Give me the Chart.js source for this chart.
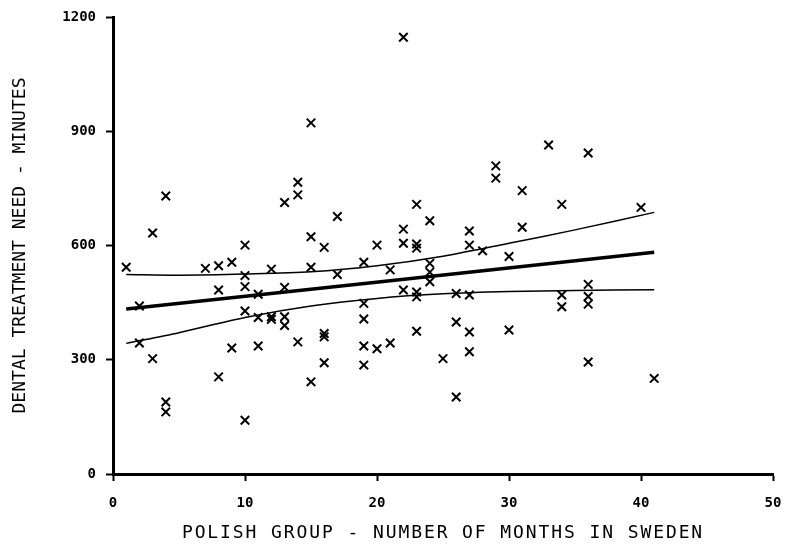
<!DOCTYPE html>
<html lang="en">
<head>
<meta charset="UTF-8">
<title>Dental treatment need - Polish group</title>
<script src="https://cdn.jsdelivr.net/npm/chart.js"></script>
<style>
  body { margin: 0; background: #fff; }
  canvas { display: block; }
</style>
</head>
<body>
<canvas id="chart" width="790" height="544"></canvas>
<script>
  // one entry per patient: months in Sweden and treatment need (minutes)
  const months = [
    1,
    2, 2,
    3, 3,
    4, 4, 4,
    7,
    8, 8, 8,
    9, 9,
    10, 10, 10, 10, 10,
    11, 11, 11,
    12, 12, 12,
    13, 13, 13, 13,
    14, 14, 14,
    15, 15, 15, 15,
    16, 16, 16, 16,
    17, 17,
    19, 19, 19, 19, 19,
    20, 20,
    21, 21,
    22, 22, 22, 22,
    23, 23, 23, 23, 23, 23,
    24, 24, 24, 24,
    25,
    26, 26, 26,
    27, 27, 27, 27, 27,
    28,
    29, 29,
    30, 30,
    31, 31,
    33,
    34, 34, 34,
    36, 36, 36, 36, 36,
    40,
    41
  ];
  const minutes = [
    543,
    441, 344,
    633, 303,
    730, 189, 163,
    540,
    547, 483, 255,
    556, 331,
    601, 521, 492, 428, 141,
    472, 411, 336,
    538, 413, 406,
    713, 490, 413, 390,
    766, 733, 347,
    922, 623, 543, 242,
    595, 369, 360, 292,
    676, 524,
    556, 448, 407, 336, 286,
    601, 329,
    536, 344,
    1147, 643, 606, 483,
    708, 604, 593, 478, 465, 375,
    665, 553, 530, 505,
    303,
    474, 399, 202,
    638, 601, 470, 373, 321,
    586,
    809, 777,
    571, 378,
    744, 648,
    864,
    708, 470, 439,
    843, 498, 466, 446, 294,
    700,
    251
  ];

  // regression line and its confidence band
  const fitMonths = [1, 41];
  const fitMinutes = [433, 582];
  const bandMonths = [1, 5, 10, 15, 20, 25, 30, 35, 41];
  const upperBand = [524, 522, 525, 531, 547, 572, 606, 641, 687];
  const lowerBand = [343, 371, 411, 441, 461, 473, 479, 482, 484];

  const xTicks = [0, 10, 20, 30, 40, 50];
  const yTicks = [0, 300, 600, 900, 1200];

  const pairs = (xs, ys) => xs.map((x, i) => ({ x: x, y: ys[i] }));

  const tickFont = { family: 'DejaVu Sans Mono', size: 14, weight: 'bold' };
  const titleFont = { family: 'DejaVu Sans Mono', size: 18 };

  // x axis is drawn after the datasets, so its title can get wider letter spacing
  const spacing = {
    id: 'spacing',
    beforeDraw(chart) { chart.ctx.letterSpacing = '0px'; },
    afterDatasetsDraw(chart) { chart.ctx.letterSpacing = '1.9px'; },
    afterDraw(chart) { chart.ctx.letterSpacing = '0px'; }
  };

  function lineSet(xs, ys, width) {
    return {
      data: pairs(xs, ys),
      showLine: true,
      fill: false,
      pointRadius: 0,
      borderColor: '#000',
      borderWidth: width,
      tension: 0.3
    };
  }

  new Chart(document.getElementById('chart'), {
    type: 'scatter',
    data: {
      datasets: [
        {
          data: pairs(months, minutes),
          pointStyle: 'crossRot',
          pointRadius: 6,
          pointBorderWidth: 2,
          borderColor: '#000',
          backgroundColor: '#000'
        },
        lineSet(bandMonths, upperBand, 1.5),
        lineSet(bandMonths, lowerBand, 1.5),
        lineSet(fitMonths, fitMinutes, 3.5)
      ]
    },
    options: {
      responsive: false,
      animation: false,
      layout: { padding: { top: 17, right: 17, left: 0, bottom: 0 } },
      plugins: { legend: { display: false }, tooltip: { enabled: false } },
      scales: {
        x: {
          type: 'linear',
          min: 0,
          max: 50,
          afterFit: s => { s.height = 70; s.paddingLeft = 0; s.paddingRight = 0; },
          afterBuildTicks: s => { s.ticks = xTicks.map(v => ({ value: v })); },
          ticks: { color: '#000', font: tickFont, padding: 14, maxRotation: 0, callback: v => String(v) },
          grid: { drawOnChartArea: false, tickLength: 7, tickWidth: 2, tickColor: '#000', z: 1 },
          border: { color: '#000', width: 3, z: 1 },
          title: {
            display: true,
            text: 'POLISH GROUP - NUMBER OF MONTHS IN SWEDEN',
            color: '#000',
            font: titleFont,
            padding: 0
          }
        },
        y: {
          type: 'linear',
          min: 0,
          max: 1200,
          afterFit: s => { s.width = 113; s.paddingTop = 0; s.paddingBottom = 0; },
          afterBuildTicks: s => { s.ticks = yTicks.map(v => ({ value: v })); },
          ticks: { color: '#000', font: tickFont, padding: 10, callback: v => String(v) },
          grid: { drawOnChartArea: false, tickLength: 7, tickWidth: 2, tickColor: '#000' },
          border: { color: '#000', width: 3 },
          title: {
            display: true,
            text: 'DENTAL TREATMENT NEED - MINUTES',
            color: '#000',
            font: titleFont,
            padding: 10
          }
        }
      }
    },
    plugins: [spacing]
  });
</script>
</body>
</html>
